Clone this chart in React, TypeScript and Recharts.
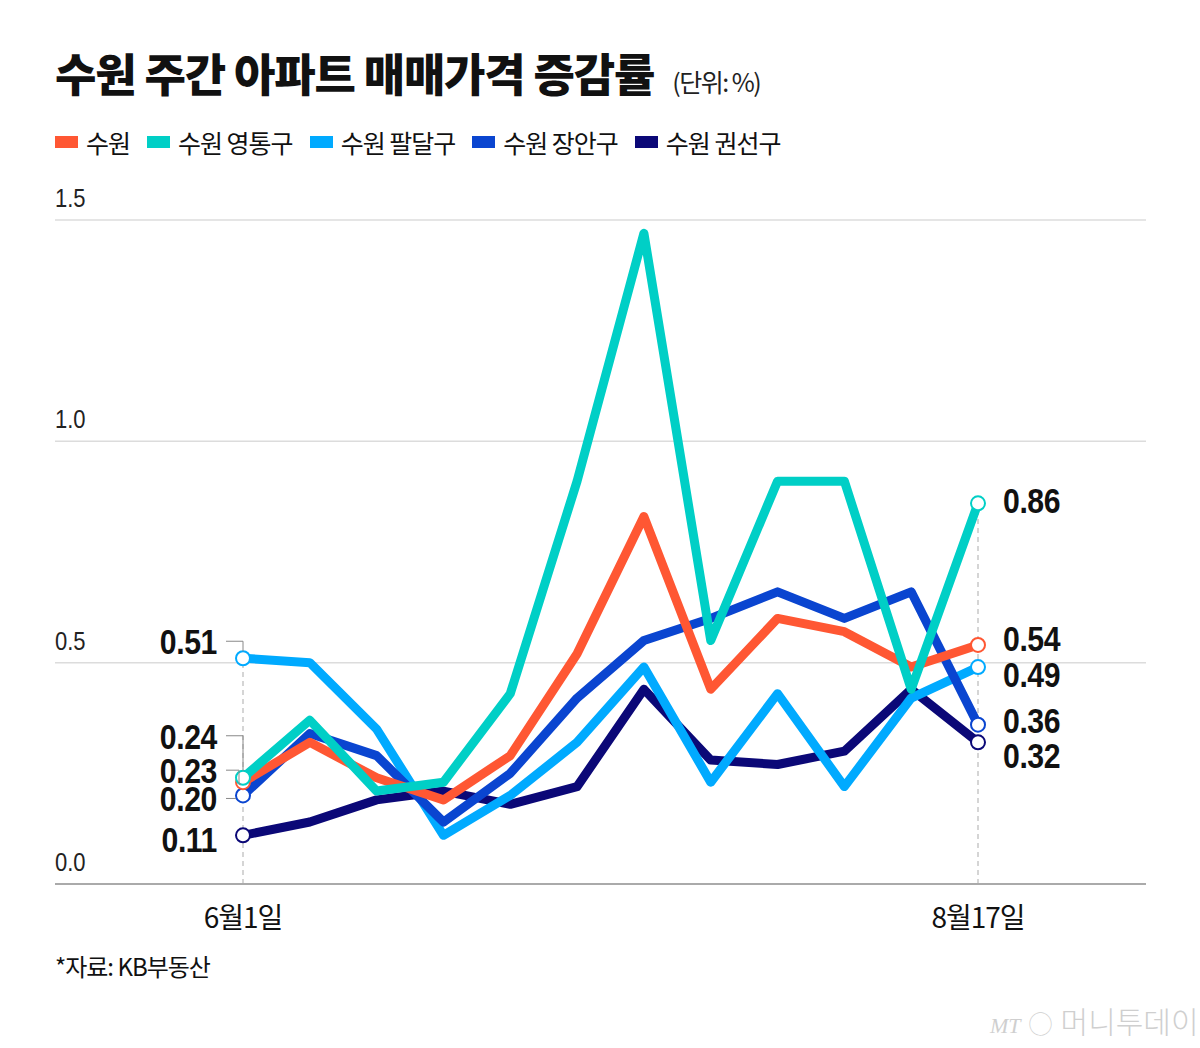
import React from 'react';
import { LineChart, Line, XAxis, YAxis, CartesianGrid, ReferenceLine, LabelList } from 'recharts';

// 주간 (6월1일 ~ 8월17일)
const weeks = ['6월1일', '6월8일', '6월15일', '6월22일', '6월29일', '7월6일', '7월13일', '7월20일', '7월27일', '8월3일', '8월10일', '8월17일'];

const suwon = [0.23, 0.32, 0.24, 0.19, 0.29, 0.52, 0.83, 0.44, 0.60, 0.57, 0.49, 0.54];
const yeongtong = [0.24, 0.37, 0.21, 0.23, 0.43, 0.91, 1.47, 0.55, 0.91, 0.91, 0.44, 0.86];
const paldal = [0.51, 0.50, 0.35, 0.11, 0.20, 0.32, 0.49, 0.23, 0.43, 0.22, 0.42, 0.49];
const jangan = [0.20, 0.34, 0.29, 0.14, 0.25, 0.42, 0.55, 0.60, 0.66, 0.60, 0.66, 0.36];
const gwonseon = [0.11, 0.14, 0.19, 0.21, 0.18, 0.22, 0.44, 0.28, 0.27, 0.30, 0.44, 0.32];

const yTicks = [0, 0.5, 1.0, 1.5];
const xTicks = ['6월1일', '8월17일'];

const legendOrder = [
  { key: 'suwon', name: '수원' },
  { key: 'yeongtong', name: '수원 영통구' },
  { key: 'paldal', name: '수원 팔달구' },
  { key: 'jangan', name: '수원 장안구' },
  { key: 'gwonseon', name: '수원 권선구' },
];

const colors: Record<string, string> = {
  suwon: '#ff5733',
  yeongtong: '#00cfc6',
  paldal: '#00aaff',
  jangan: '#0a45d0',
  gwonseon: '#0b0877',
};

// drawing order, bottom -> top
const drawOrder = ['gwonseon', 'paldal', 'jangan', 'suwon', 'yeongtong'];

// label offsets (px) from the end points, and leader type
const endLabels: Record<string, { leftDy: number; rightDy: number; leader: string }> = {
  gwonseon: { leftDy: 4, rightDy: 13, leader: 'none' },
  jangan: { leftDy: 3, rightDy: -5, leader: 'flat' },
  paldal: { leftDy: -17, rightDy: 7, leader: 'up' },
  suwon: { leftDy: -12, rightDy: -7, leader: 'step' },
  yeongtong: { leftDy: -42, rightDy: -3, leader: 'up' },
};

const data = weeks.map((w, i) => ({
  week: w,
  suwon: suwon[i],
  yeongtong: yeongtong[i],
  paldal: paldal[i],
  jangan: jangan[i],
  gwonseon: gwonseon[i],
}));

const numFont = '"Liberation Sans", Arial, sans-serif';
const krFont = '"Noto Sans CJK KR", "Noto Sans", sans-serif';
const last = weeks.length - 1;

const YTick = (props: any) => {
  const { y, payload } = props;
  return (
    <g transform={`translate(55,${y - 13}) scale(0.88,1)`}>
      <text x={0} y={0} fontFamily={numFont} fontSize={25} fill="#222" textAnchor="start">
        {Number(payload.value).toFixed(1)}
      </text>
    </g>
  );
};

const XTick = (props: any) => {
  const { x, payload } = props;
  if (!xTicks.includes(payload.value)) return <g />;
  return (
    <text x={x} y={928} fontFamily={krFont} fontSize={28} fill="#111" textAnchor="middle" letterSpacing={-1}>
      {payload.value}
    </text>
  );
};

const makeDot = (key: string) => (props: any) => {
  const { cx, cy, index } = props;
  if (index !== 0 && index !== last) return <g key={`${key}-d${index}`} />;
  return <circle key={`${key}-d${index}`} cx={cx} cy={cy} r={7} fill="#fff" stroke={colors[key]} strokeWidth={2} />;
};

const NumText = ({ x, y, anchor, value }: { x: number; y: number; anchor: 'start' | 'end'; value: number }) => (
  <g transform={`translate(${x},${y}) scale(0.84,1)`}>
    <text x={0} y={0} fontFamily={numFont} fontWeight="bold" fontSize={36} fill="#111" textAnchor={anchor} letterSpacing={-0.5}>
      {value.toFixed(2)}
    </text>
  </g>
);

const makeLabel = (key: string) => (props: any) => {
  const { x, y, index, value } = props;
  const cfg = endLabels[key];
  if (index === 0) {
    const ly = y + cfg.leftDy;
    let leader = null;
    if (cfg.leader === 'up') {
      leader = <polyline points={`${x - 17},${ly} ${x},${ly} ${x},${y - 7}`} fill="none" stroke="#888" strokeWidth={1} />;
    } else if (cfg.leader === 'step') {
      leader = <polyline points={`${x - 17},${ly} ${x - 4},${ly} ${x - 4},${y + 2} ${x - 2},${y + 2}`} fill="none" stroke="#888" strokeWidth={1} />;
    } else if (cfg.leader === 'flat') {
      leader = <line x1={x - 17} y1={ly} x2={x - 7} y2={ly} stroke="#888" strokeWidth={1} />;
    }
    return (
      <g key={`${key}-l0`}>
        {leader}
        <NumText x={x - 26} y={ly + 13} anchor="end" value={Number(value)} />
      </g>
    );
  }
  if (index === last) {
    const ly = y + cfg.rightDy;
    return (
      <g key={`${key}-l1`}>
        <NumText x={x + 25} y={ly + 13} anchor="start" value={Number(value)} />
      </g>
    );
  }
  return <g key={`${key}-l${index}`} />;
};

export default function App() {
  return (
    <div style={{ position: 'absolute', left: 0, top: 0, width: 1200, height: 1048, background: '#fff', overflow: 'hidden', fontFamily: krFont }}>
      <div style={{ position: 'absolute', left: 55, top: 50, fontSize: 45, fontWeight: 900, color: '#111', letterSpacing: -1.2, lineHeight: 1, whiteSpace: 'nowrap' }}>
        수원 주간 아파트 매매가격 증감률
        <span style={{ fontSize: 25, fontWeight: 400, letterSpacing: -1.5, marginLeft: 18, color: '#222' }}>(단위: %)</span>
      </div>

      <div style={{ position: 'absolute', left: 55, top: 126, display: 'flex', alignItems: 'center', whiteSpace: 'nowrap' }}>
        {legendOrder.map((s) => (
          <div key={s.key} style={{ display: 'flex', alignItems: 'center', marginRight: 17 }}>
            <span style={{ display: 'inline-block', width: 23, height: 12, background: colors[s.key], marginRight: 8 }} />
            <span style={{ fontSize: 25, color: '#111', letterSpacing: -1, lineHeight: '32px' }}>{s.name}</span>
          </div>
        ))}
      </div>

      <div style={{ position: 'absolute', left: 0, top: 0 }}>
        <LineChart width={1200} height={1048} data={data} margin={{ top: 220, right: 54, bottom: 124, left: 0 }}>
          <CartesianGrid horizontal vertical={false} stroke="#dcdcdc" strokeWidth={1.5} />
          <XAxis
            dataKey="week"
            type="category"
            padding={{ left: 188, right: 168 }}
            axisLine={{ stroke: '#aaa', strokeWidth: 2 }}
            tickLine={false}
            tick={<XTick />}
            interval={0}
            height={40}
          />
          <YAxis
            domain={[0, 1.5]}
            ticks={yTicks}
            width={55}
            axisLine={false}
            tickLine={false}
            tick={<YTick />}
            interval={0}
          />
          <ReferenceLine
            segment={[{ x: '6월1일', y: 0 }, { x: '6월1일', y: paldal[0] }]}
            stroke="#c8c8c8"
            strokeDasharray="5 4"
            strokeWidth={1.5}
          />
          <ReferenceLine
            segment={[{ x: '8월17일', y: 0 }, { x: '8월17일', y: yeongtong[last] }]}
            stroke="#c8c8c8"
            strokeDasharray="5 4"
            strokeWidth={1.5}
          />
          {drawOrder.map((key) => (
            <Line
              key={key}
              type="linear"
              dataKey={key}
              stroke={colors[key]}
              strokeWidth={9}
              strokeLinejoin="round"
              dot={makeDot(key)}
              activeDot={false}
              isAnimationActive={false}
            >
              <LabelList dataKey={key} content={makeLabel(key)} />
            </Line>
          ))}
        </LineChart>
      </div>

      <div style={{ position: 'absolute', left: 55, top: 950, fontSize: 24, color: '#111', letterSpacing: -1, lineHeight: '32px' }}>
        *자료: KB부동산
      </div>

      <div style={{ position: 'absolute', left: 990, top: 1002, fontSize: 30, color: '#cfcfcf', fontWeight: 300, whiteSpace: 'nowrap', lineHeight: '36px' }}>
        <span style={{ fontStyle: 'italic', fontSize: 22, fontFamily: 'serif', marginRight: 8 }}>MT</span>
        <span style={{ fontSize: 24, marginRight: 8 }}>◯</span>
        머니투데이
      </div>
    </div>
  );
}
